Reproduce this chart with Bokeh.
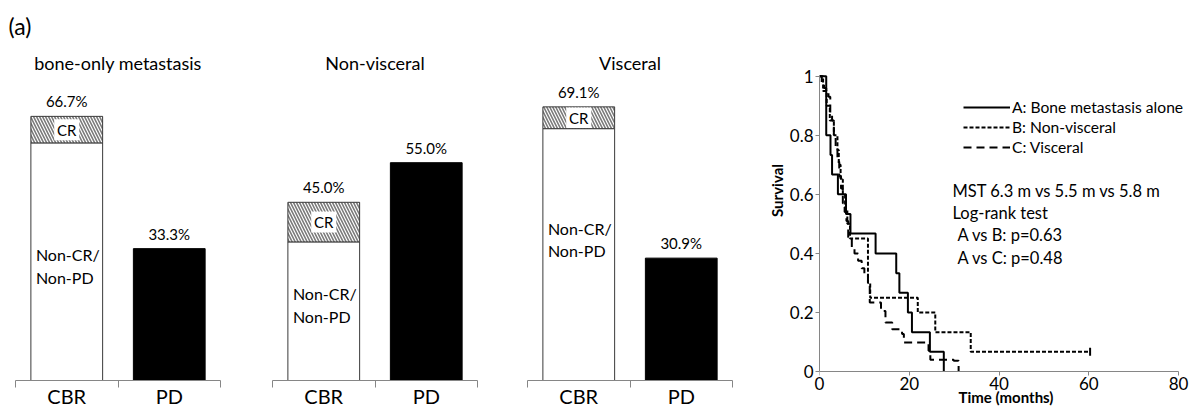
import math
from bokeh.plotting import figure
from bokeh.models import Range1d, FixedTicker, Label, Legend, LegendItem, LinearAxis
from bokeh.layouts import row
from bokeh.embed import file_html
from bokeh.resources import INLINE
from bokeh.core.properties import value

FONT = "Lato"
AXIS_GRAY = "#868686"

# ---------------- data: panel (a) ----------------
panel_titles = ["bone-only metastasis", "Non-visceral", "Visceral"]
categories = ["CBR", "PD"]
cbr_pct = [66.7, 45.0, 69.1]
cr_pct = [6.7, 10.0, 5.5]
pd_pct = [33.3, 55.0, 30.9]
cr_label = "CR"
noncr_label = "Non-CR/\nNon-PD"

# ---------------- data: panel (b) ----------------
time_ticks = [0, 20, 40, 60, 80]
surv_ticks = [0, 0.2, 0.4, 0.6, 0.8, 1]
surv_tick_labels = ["0", "0.2", "0.4", "0.6", "0.8", "1"]

a_time = [0, 1.5, 2.45, 2.8, 4.1, 5.9, 6.9, 12.5, 17.1, 17.8, 19.7, 20.6, 24.6, 27.7]
a_surv = [1.0, 0.8, 0.733, 0.667, 0.6, 0.533, 0.467, 0.4, 0.333, 0.267, 0.2, 0.133, 0.067, 0.0]

b_time = [0, 0.8, 1.6, 2.3, 3.2, 4.0, 4.3, 4.7, 5.2, 5.7, 6.2, 6.8, 10.8, 11.3, 21.9, 25.8, 33.7, 60.3]
b_surv = [1.0, 0.95, 0.9, 0.85, 0.8, 0.75, 0.7, 0.65, 0.6, 0.55, 0.5, 0.45, 0.3, 0.25, 0.2, 0.133, 0.067, 0.067]
b_censor_time = [60.3]
b_censor_surv = [0.067]

c_time = [0, 0.5, 1.0, 1.5, 2.0, 2.4, 2.8, 3.2, 3.6, 4.0, 4.4, 4.8, 5.2, 5.6, 6.0, 6.4,
          7.2, 7.8, 8.6, 9.4, 10.0, 10.8, 11.2, 13.7, 14.7, 16.2, 18.4, 18.8, 24.3, 24.7, 29.9, 31.0]
c_surv = [1.0, 0.98, 0.96, 0.945, 0.93, 0.87, 0.85, 0.80, 0.76, 0.71, 0.66, 0.62, 0.57, 0.54, 0.51, 0.455,
          0.42, 0.40, 0.375, 0.35, 0.33, 0.30, 0.234, 0.205, 0.166, 0.143, 0.127, 0.098, 0.07, 0.04, 0.036, 0.0]

legend_labels = ["A: Bone metastasis alone", "B: Non-visceral", "C: Visceral"]
stats_lines = ["MST 6.3 m vs 5.5 m vs 5.8 m", "Log-rank test", "A vs B: p=0.63", "A vs C: p=0.48"]

# ---------------- layout / style constants ----------------
PX_PER_UNIT_X = 102.5        # px per category slot
PX_PER_PCT = 3.96            # px per percent
FRAME_H = 380                # frame height shared by all figures (bottom border 30)
bar_fig_widths = [250, 250, 260]
axis_left_px = [15, 22, 27]
noncr_label_y = [29.0, 19.0, 35.6]
TITLE_Y = (FRAME_H - 62) / PX_PER_PCT


def bar_figure(i):
    w = bar_fig_widths[i]
    x0 = -axis_left_px[i] / PX_PER_UNIT_X
    x1 = (w - axis_left_px[i]) / PX_PER_UNIT_X
    p = figure(width=w, height=410, x_range=Range1d(x0, x1),
               y_range=Range1d(0, FRAME_H / PX_PER_PCT), title=None,
               output_backend="svg", toolbar_location=None, y_axis_location=None,
               min_border_left=0, min_border_right=0, min_border_top=0, min_border_bottom=30)
    p.outline_line_color = None
    p.grid.visible = False
    p.background_fill_color = "white"

    xs = [k + 0.5 for k in range(len(categories))]
    cbr = cbr_pct[i]
    cr = cr_pct[i]
    pdv = pd_pct[i]
    noncr = cbr - cr
    bw = 0.70

    # CBR: non-CR part
    p.vbar(x=[xs[0]], bottom=[0], top=[noncr], width=bw, fill_color="white",
           line_color="#3a3a3a", line_width=1)
    # CBR: CR part (hatched)
    p.vbar(x=[xs[0]], bottom=[noncr], top=[cbr], width=bw, fill_color="white",
           hatch_pattern="\\", hatch_color="#7a7a7a", hatch_scale=6, hatch_weight=1.6,
           line_color="#3a3a3a", line_width=1)
    # PD bar
    p.vbar(x=[xs[1]], bottom=[0], top=[pdv], width=bw, fill_color="black",
           line_color="black", line_width=1)

    # white box + CR text
    box_h = min(cr - 0.3, 21 / PX_PER_PCT)
    p.rect(x=[xs[0]], y=[noncr + cr / 2], width=25, height=box_h, width_units="screen",
           fill_color="white", line_color=None)
    p.text(x=[xs[0]], y=[noncr + cr / 2], text=[cr_label], text_align="center",
           text_baseline="middle", text_font=value(FONT), text_font_size="15px", text_color="black")

    # Non-CR/Non-PD label
    p.text(x=[xs[0] - bw / 2], y=[noncr_label_y[i]], text=[noncr_label], x_offset=5,
           text_align="left", text_baseline="middle", text_font=value(FONT),
           text_font_size="16px", text_line_height=1.2, text_color="black")

    # value labels
    p.text(x=xs, y=[cbr, pdv], text=[f"{cbr:.1f}%", f"{pdv:.1f}%"], y_offset=-6,
           text_align="center", text_baseline="bottom", text_font=value(FONT),
           text_font_size="15px", text_color="black")

    # panel title
    p.text(x=[1.0], y=[TITLE_Y], text=[panel_titles[i]], text_align="center",
           text_baseline="middle", text_font=value(FONT), text_font_size="18px",
           text_color="black")

    ax = p.xaxis[0]
    ax.ticker = FixedTicker(ticks=xs, minor_ticks=[0, 1, 2])
    ax.major_label_overrides = {xs[k]: categories[k] for k in range(len(categories))}
    ax.bounds = (0, 2)
    ax.axis_line_color = AXIS_GRAY
    ax.axis_line_width = 1
    ax.major_tick_out = 0
    ax.major_tick_in = 0
    ax.minor_tick_out = 7
    ax.minor_tick_in = 0
    ax.minor_tick_line_color = AXIS_GRAY
    ax.major_label_text_font = FONT
    ax.major_label_text_font_size = "20px"
    ax.major_label_text_color = "black"
    ax.major_label_standoff = -4
    return p


bar_figs = [bar_figure(i) for i in range(3)]
bar_figs[0].text(x=[-0.068], y=[(FRAME_H - 25) / PX_PER_PCT], text=["(a)"],
                 text_align="left", text_baseline="middle", text_font=value(FONT),
                 text_font_size="23px", text_color="black")

# ---------------- panel (b) ----------------
KM_ZERO_PX = 371             # pixel row of survival 0 (x axis)
PX_PER_SURV = 295.3
PX_PER_MONTH = 4.4875
KM_FRAME_W = 432 - 59
y_lo = -(FRAME_H - KM_ZERO_PX) / PX_PER_SURV
km = figure(width=432, height=410, x_range=Range1d(0, KM_FRAME_W / PX_PER_MONTH),
            y_range=Range1d(y_lo, y_lo + FRAME_H / PX_PER_SURV), title=None,
            output_backend="svg", toolbar_location=None,
            min_border_left=59, min_border_right=0, min_border_top=0, min_border_bottom=30)
km.outline_line_color = None
km.grid.visible = False

ra = km.step(a_time, a_surv, mode="after", line_color="black", line_width=2)
rb = km.step(b_time, b_surv, mode="after", line_color="black", line_width=2, line_dash="4 2")
rc = km.step(c_time, c_surv, mode="after", line_color="black", line_width=2, line_dash="8 5")
km.scatter(b_censor_time, b_censor_surv, marker="dash", angle=math.pi / 2, size=8,
           line_color="black", line_width=2)

legend = Legend(items=[LegendItem(label=legend_labels[0], renderers=[ra]),
                       LegendItem(label=legend_labels[1], renderers=[rb]),
                       LegendItem(label=legend_labels[2], renderers=[rc])],
                location=(144, FRAME_H - 157), orientation="vertical", glyph_width=47,
                glyph_height=20, label_height=20, label_standoff=2, spacing=0, padding=0,
                margin=0, border_line_color=None, background_fill_alpha=0,
                label_text_font=FONT, label_text_font_size="15.6px", label_text_color="black")
km.add_layout(legend)

stats_x = (952 - 819) / PX_PER_MONTH
stats_y_px = [190, 212, 234, 257]
stats_dx = [0, 0, 5, 5]
for line, ypx, dx in zip(stats_lines, stats_y_px, stats_dx):
    km.text(x=[stats_x], y=[(KM_ZERO_PX - ypx) / PX_PER_SURV], text=[line], x_offset=dx,
            text_align="left", text_baseline="middle", text_font=value(FONT),
            text_font_size="16.5px", text_color="black")

km.add_layout(Label(x=-9.8, y=(KM_ZERO_PX - 25) / PX_PER_SURV, text="(b)",
                    text_font=FONT, text_font_size="23px", text_baseline="middle",
                    text_color="black"))

# y axis (in the left border)
yax = km.yaxis[0]
yax.ticker = FixedTicker(ticks=surv_ticks)
yax.major_label_overrides = {surv_ticks[k]: surv_tick_labels[k] for k in range(len(surv_ticks))}
yax.bounds = (0, 1)
yax.axis_label = "Survival"
yax.axis_label_standoff = 1

# x axis labels (in the bottom border): no line, no ticks
xlab = km.xaxis[0]
xlab.ticker = FixedTicker(ticks=time_ticks)
xlab.bounds = (0, 80)
xlab.axis_label = "Time (months)"
xlab.axis_line_color = None
xlab.major_tick_line_color = None
xlab.major_tick_out = 0
xlab.major_label_standoff = -4
xlab.axis_label_standoff = -5

# x axis line + ticks drawn at survival 0 (its labels are not drawn)
xline = LinearAxis(ticker=FixedTicker(ticks=time_ticks), fixed_location=0, bounds=(0, 80),
                   major_label_text_color=None, axis_line_color=AXIS_GRAY,
                   major_tick_line_color=AXIS_GRAY, major_tick_out=4, major_tick_in=0,
                   minor_tick_out=0, minor_tick_in=0)
km.add_layout(xline, "below")

for ax in (xlab, yax):
    ax.minor_tick_out = 0
    ax.minor_tick_in = 0
    ax.major_label_text_font = FONT
    ax.major_label_text_font_size = "17px"
    ax.major_label_text_color = "black"
    ax.axis_label_text_font = FONT
    ax.axis_label_text_font_size = "15px"
    ax.axis_label_text_font_style = "bold"
    ax.axis_label_text_color = "black"
yax.axis_line_color = AXIS_GRAY
yax.major_tick_line_color = AXIS_GRAY
yax.major_tick_out = 4
yax.major_tick_in = 0
yax.major_label_standoff = 2

layout = row(*bar_figs, km)
open("out.html", "w").write(file_html(layout, INLINE))
